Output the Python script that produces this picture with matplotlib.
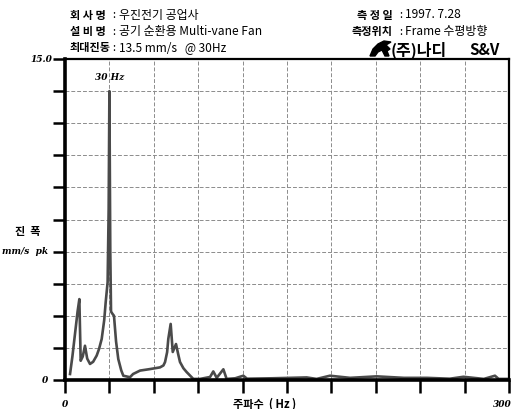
import matplotlib
matplotlib.use('Agg')
import matplotlib.pyplot as plt
from matplotlib.patches import Polygon
import numpy as np

plt.rcParams['font.family'] = ['Noto Sans CJK KR', 'DejaVu Sans']

# spectrum read points (Hz, mm/s pk)
freq = [3.4, 5.0, 6.5, 8.5, 9.7, 10.6, 12.0, 13.5, 15.0, 16.9, 19.0, 21.4, 23.0,
        24.8, 26.5, 27.5, 28.8, 29.5, 30.0, 30.6, 31.1, 32.0, 33.1, 34.5, 36.0,
        38.0, 39.4, 43.9, 46.0, 50.7, 57.4, 64.2, 66.5, 67.6, 69.0, 69.8, 71.4,
        72.8, 75.0, 76.5, 77.7, 80.0, 82.2, 86.7, 91.2, 98.0, 100.2, 102.5,
        107.0, 109.2, 115.0, 120.5, 123.0, 140.0, 163.3, 170.0, 179.0, 192.6,
        210.6, 229.0, 244.6, 260.0, 269.2, 283.0, 290.5, 293.0, 300.0]
amp = [0.28, 1.1, 2.0, 3.2, 3.78, 0.9, 1.1, 1.6, 1.0, 0.75, 0.85, 1.14, 1.45,
       1.92, 2.8, 3.64, 4.57, 8.0, 13.5, 6.0, 3.2, 3.1, 3.0, 1.8, 0.98,
       0.45, 0.2, 0.13, 0.28, 0.44, 0.51, 0.59, 0.68, 0.84, 1.3, 1.92, 2.62,
       1.31, 1.68, 1.2, 0.84, 0.55, 0.37, 0.05, 0.05, 0.14, 0.4, 0.1,
       0.5, 0.05, 0.08, 0.2, 0.06, 0.08, 0.12, 0.05, 0.2, 0.1,
       0.17, 0.1, 0.1, 0.06, 0.15, 0.05, 0.2, 0.05, 0.05]

x_ticks = np.arange(0, 301, 30)
y_ticks = np.arange(0, 15.01, 1.5)

fig = plt.figure(figsize=(5.13, 4.10), dpi=100)
ax = fig.add_axes([65 / 513, 29 / 410, 444 / 513, 321 / 410])

ax.plot(freq, amp, color='#4a4a4a', lw=1.9, solid_joinstyle='round')

ax.set_xlim(0, 300)
ax.set_ylim(0, 15)
ax.set_xticks(x_ticks)
ax.set_yticks(y_ticks)
ax.set_xticklabels([])
ax.set_yticklabels([])
ax.grid(True, color='#8c8c8c', lw=0.7, linestyle=(0, (4, 2)))
ax.tick_params(axis='both', direction='out', length=9, width=1.8, color='black')

for side, w in [('left', 2.6), ('bottom', 2.6), ('top', 1.6), ('right', 1.6)]:
    ax.spines[side].set_linewidth(w)
    ax.spines[side].set_color('black')

serif_lbl = dict(family='DejaVu Serif', style='italic', weight='bold', fontsize=6.5)
fig.text(52 / 513, 1 - 60 / 410, '15.0', ha='right', va='center', **serif_lbl)
fig.text(48 / 513, 1 - 381 / 410, '0', ha='right', va='center', **serif_lbl)
fig.text(65 / 513, 1 - 405 / 410, '0', ha='center', va='center', **serif_lbl)
fig.text(512 / 513, 1 - 405 / 410, '300', ha='right', va='center', **serif_lbl)

ax.text(30, 14.2, '30 Hz', ha='center', va='center', family='DejaVu Serif',
        style='italic', weight='bold', fontsize=6.5)

# axis titles
fig.text(28 / 513, 1 - 232 / 410, '진  폭', ha='center', va='center',
         fontsize=8, weight='bold')
fig.text(25 / 513, 1 - 252 / 410, 'mm/s  pk', ha='center', va='center', **serif_lbl)
fig.text(265 / 513, 1 - 404 / 410, '주파수  ( Hz )', ha='center', va='center',
         fontsize=8, weight='bold')

# header block: label, colon, value
hdr = dict(va='center')
rows_left = [('회 사 명', '우진전기 공업사', 15),
             ('설 비 명', '공기 순환용 Multi-vane Fan', 32),
             ('최대진동', '13.5 mm/s   @ 30Hz', 48)]
for lbl, val, y in rows_left:
    fig.text(70 / 513, 1 - y / 410, lbl, weight='bold', fontsize=8, **hdr)
    fig.text(112 / 513, 1 - y / 410, ':', fontsize=8, **hdr)
    fig.text(119 / 513, 1 - y / 410, val, fontsize=8.6, **hdr)

rows_right = [('측 정 일', '1997. 7.28', 15),
              ('측정위치', 'Frame 수평방향', 32)]
for lbl, val, y in rows_right:
    fig.text(393 / 513, 1 - y / 410, lbl, weight='bold', ha='right', fontsize=8, **hdr)
    fig.text(399 / 513, 1 - y / 410, ':', fontsize=8, **hdr)
    fig.text(405 / 513, 1 - y / 410, val, fontsize=8.6, **hdr)

# company logo
logo = np.array([[370, 57], [373, 50], [378, 45], [384, 42], [391, 43],
                 [386, 46], [390, 50], [387, 52], [389, 57], [385, 57],
                 [382, 51], [378, 53], [375, 57]], dtype=float)
logo[:, 0] /= 513
logo[:, 1] = 1 - logo[:, 1] / 410
fig.patches.append(Polygon(logo, closed=True, color='black',
                           transform=fig.transFigure, figure=fig))
fig.text(391 / 513, 1 - 50 / 410, '(주)나디', fontsize=11.5, weight='bold',
         va='center')
fig.text(500 / 513, 1 - 50 / 410, 'S&V', fontsize=11, weight='bold',
         va='center', ha='right')

fig.savefig('out.png', dpi=100)
